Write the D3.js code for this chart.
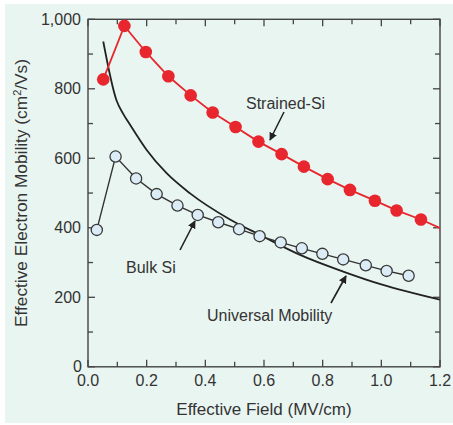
<!DOCTYPE html>
<html><head><meta charset="utf-8">
<script src="https://cdn.jsdelivr.net/npm/d3@7"></script>
<style>body{margin:0;background:#fff}svg{display:block}text{font-family:"Liberation Sans",Arial,sans-serif;fill:#333}</style>
</head><body><svg id="c" width="453" height="425"></svg>
<script>
const strainedField = [0.052,0.124,0.197,0.274,0.350,0.425,0.503,0.581,0.660,0.736,0.817,0.893,0.978,1.052,1.135,1.22];
const strainedMob   = [827,981,906,836,781,732,690,648,612,576,540,509,478,450,424,392];
const bulkField = [0.030,0.094,0.164,0.234,0.305,0.374,0.444,0.515,0.585,0.657,0.729,0.799,0.870,0.947,1.018,1.093];
const bulkMob   = [394,605,542,497,464,437,416,396,376,358,341,325,309,292,276,262];
const univField = [0.052,0.097,0.120,0.143,0.200,0.268,0.348,0.484,0.590,0.723,0.870,1.0,1.2];
const univMob   = [936,767,728,697,624,557,499,424,378,322,274,237,193];
const xTicks = [0,0.2,0.4,0.6,0.8,1.0,1.2];
const yTicks = [0,200,400,600,800,1000];
const xMinor = d3.range(0,1.21,0.1);
const yMinor = d3.range(0,1001,100);

const svg = d3.select("#c");
svg.append("rect").attr("x",5).attr("y",4).attr("width",448).attr("height",419).attr("fill","#e9f5f1");
const L=88,R=440,T=19.3,B=366.8;
const x = d3.scaleLinear().domain([0,1.2]).range([L,R]);
const y = d3.scaleLinear().domain([0,1000]).range([B,T]);

const defs = svg.append("defs");
defs.append("clipPath").attr("id","clip").append("rect")
  .attr("x",L).attr("y",T-10).attr("width",R-L).attr("height",B-T+10);
defs.append("marker").attr("id","ah").attr("viewBox","0 0 10 10").attr("refX",9).attr("refY",5)
  .attr("markerWidth",8).attr("markerHeight",8).attr("markerUnits","userSpaceOnUse").attr("orient","auto")
  .append("path").attr("d","M0,0L10,5L0,10z").attr("fill","#222");

const ink="#444";
function ticksX(vals,len,yy,dir){vals.forEach(v=>svg.append("line").attr("x1",x(v)).attr("x2",x(v)).attr("y1",yy).attr("y2",yy+dir*len).attr("stroke",ink).attr("stroke-width",1.3));}
function ticksY(vals,len,xx,dir){vals.forEach(v=>svg.append("line").attr("y1",y(v)).attr("y2",y(v)).attr("x1",xx).attr("x2",xx+dir*len).attr("stroke",ink).attr("stroke-width",1.3));}
const isMajX=v=>Math.abs(Math.round(v*5)-v*5)<1e-6;
const isMajY=v=>v%200===0;
ticksX(xMinor.filter(isMajX),7,B,-1); ticksX(xMinor.filter(v=>!isMajX(v)),5,B,-1);
ticksX(xMinor.filter(isMajX),7,T,1); ticksX(xMinor.filter(v=>!isMajX(v)),5,T,1);
ticksY(yMinor.filter(isMajY),7,L,1); ticksY(yMinor.filter(v=>!isMajY(v)),5,L,1);
ticksY(yMinor.filter(isMajY),7,R,-1); ticksY(yMinor.filter(v=>!isMajY(v)),5,R,-1);
svg.append("rect").attr("x",L).attr("y",T).attr("width",R-L).attr("height",B-T).attr("fill","none").attr("stroke",ink).attr("stroke-width",1.4);

xTicks.forEach(v=>svg.append("text").attr("x",x(v)).attr("y",B+19.5).attr("text-anchor","middle").attr("font-size",16).text(d3.format(".1f")(v)));
yTicks.forEach(v=>svg.append("text").attr("x",v===0?82:81).attr("y",y(v)+5.5).attr("text-anchor","end").attr("font-size",16).text(d3.format(",")(v)));

svg.append("text").attr("x",264).attr("y",415).attr("text-anchor","middle").attr("font-size",17).text("Effective Field (MV/cm)");
const yt = svg.append("text").attr("transform","translate(27,193) rotate(-90)").attr("text-anchor","middle").attr("font-size",17.3);
yt.append("tspan").text("Effective Electron  Mobility (cm");
yt.append("tspan").attr("font-size",11).attr("dy",-6).text("2");
yt.append("tspan").attr("dy",6).text("/Vs)");

const g = svg.append("g").attr("clip-path","url(#clip)");
const line = d3.line().x(d=>x(d[0])).y(d=>y(d[1]));
const univ = univField.map((f,i)=>[f,univMob[i]]);
const bulk = bulkField.map((f,i)=>[f,bulkMob[i]]);
const strained = strainedField.map((f,i)=>[f,strainedMob[i]]);

g.append("path").datum(univ).attr("d",line.curve(d3.curveMonotoneX)).attr("fill","none").attr("stroke","#222").attr("stroke-width",1.8);
line.curve(d3.curveLinear);
g.append("path").datum(bulk).attr("d",line).attr("fill","none").attr("stroke","#333").attr("stroke-width",1.4);
g.selectAll(".b").data(bulk).join("circle").attr("cx",d=>x(d[0])).attr("cy",d=>y(d[1])).attr("r",5.6)
  .attr("fill","#dcecf7").attr("stroke","#3a3a3a").attr("stroke-width",1.3);
g.append("path").datum(strained).attr("d",line).attr("fill","none").attr("stroke","#e8262e").attr("stroke-width",1.8);
g.selectAll(".s").data(strained).join("circle").attr("cx",d=>x(d[0])).attr("cy",d=>y(d[1])).attr("r",6.3)
  .attr("fill","#e8262e");

function ann(txt,tx,ty,x1,y1,x2,y2){
  svg.append("text").attr("x",tx).attr("y",ty).attr("font-size",16).text(txt);
  svg.append("line").attr("x1",x1).attr("y1",y1).attr("x2",x2).attr("y2",y2).attr("stroke","#222").attr("stroke-width",1.6).attr("marker-end","url(#ah)");
}
ann("Strained-Si",246,109,284,112,270,140);
ann("Bulk Si",126,273,180,250,195,221);
ann("Universal Mobility",207,321,331,303,346,276);
</script></body></html>
